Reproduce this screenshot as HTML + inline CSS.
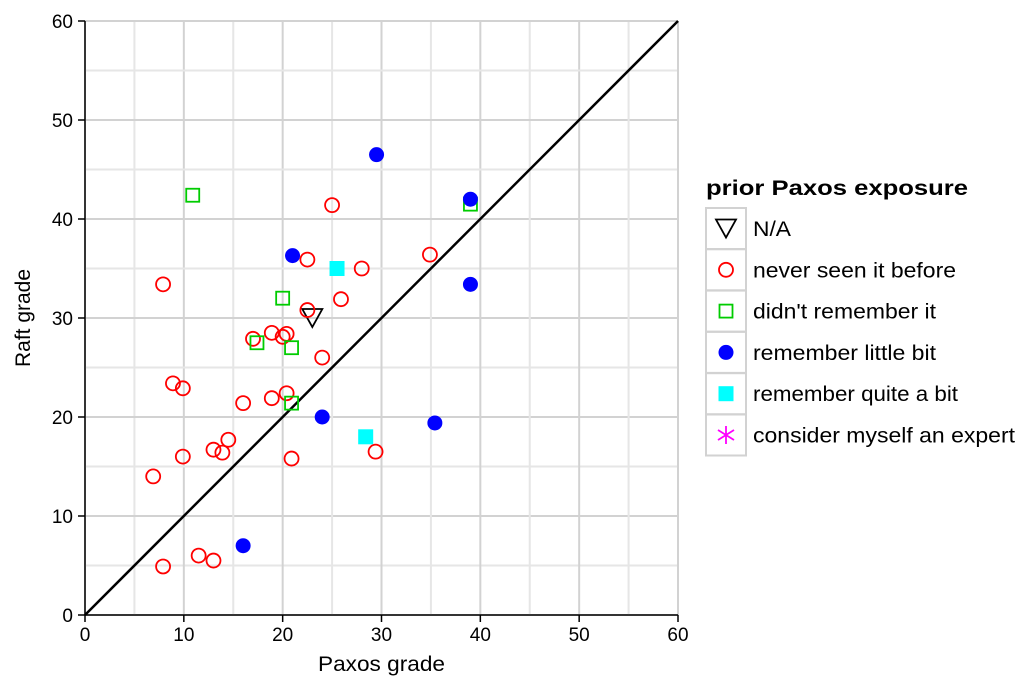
<!DOCTYPE html>
<html><head><meta charset="utf-8">
<style>
html,body{margin:0;padding:0;background:#fff;}
svg{display:block;font-family:"Liberation Sans",Arial,sans-serif;}
</style></head>
<body>
<svg id="chart" width="1027" height="694" viewBox="0 0 1027 694">
<g id="grid"></g>
<g id="axes"></g>
<g id="marks"></g>
<text x="318" y="671" font-size="21" textLength="127" lengthAdjust="spacingAndGlyphs">Paxos grade</text>
<text transform="translate(30,318) rotate(-90)" font-size="21" text-anchor="middle">Raft grade</text>
<g id="legend">
<text x="706" y="195" font-size="21" font-weight="bold" textLength="262" lengthAdjust="spacingAndGlyphs">prior Paxos exposure</text>
</g>
</svg>
<script>
const xTicks=[0,10,20,30,40,50,60];
const yTicks=[0,10,20,30,40,50,60];
const naX=[23], naY=[30];
const neverX=[25,34.9,22.5,28,7.9,25.9,22.5,17,18.9,20,20.4,24,8.9,9.9,16,18.9,20.4,29.4,20.9,14.5,13,13.9,9.9,6.9,11.5,13,7.9];
const neverY=[41.4,36.4,35.9,35,33.4,31.9,30.8,27.9,28.5,28.1,28.4,26,23.4,22.9,21.4,21.9,22.4,16.5,15.8,17.7,16.7,16.4,16,14,6,5.5,4.9];
const didntX=[10.9,39,20,17.4,20.9,20.9];
const didntY=[42.4,41.5,32,27.5,27,21.4];
const littleX=[29.5,39,21,39,24,35.4,16];
const littleY=[46.5,42,36.3,33.4,20,19.4,7];
const quiteX=[25.5,28.4];
const quiteY=[35,18];
const expertX=[], expertY=[];
const legendLabels=["N/A","never seen it before","didn't remember it","remember little bit","remember quite a bit","consider myself an expert"];
const legendWidths=[38,203,183,183,205,262];

const NS="http://www.w3.org/2000/svg";
const X0=85,X1=678,Y0=615,Y1=21;
const sx=v=>X0+(v-0)/60*(X1-X0);
const sy=v=>Y0-(v-0)/60*(Y0-Y1);
function mk(tag,attrs,parent){const e=document.createElementNS(NS,tag);for(const k in attrs)e.setAttribute(k,attrs[k]);parent.appendChild(e);return e;}
const grid=document.getElementById('grid'),axes=document.getElementById('axes'),marks=document.getElementById('marks'),legend=document.getElementById('legend');
for(let v=0;v<=60;v+=5){
  const gx=mk('line',{x1:sx(v),x2:sx(v),y1:Y1,y2:Y0,stroke:v%10?'#e6e6e6':'#d2d2d2','stroke-width':2},grid);
  
  
  const gy=mk('line',{x1:X0,x2:X1,y1:sy(v),y2:sy(v),stroke:v%10?'#e6e6e6':'#d2d2d2','stroke-width':2},grid);
  
  
}
mk('line',{x1:X0,x2:X0,y1:Y1,y2:Y0,stroke:'#000','stroke-width':1.5},axes);
mk('line',{x1:X0,x2:X1,y1:Y0,y2:Y0,stroke:'#000','stroke-width':1.5},axes);
xTicks.forEach(v=>{
  mk('line',{x1:sx(v),x2:sx(v),y1:Y0,y2:Y0+7,stroke:'#000','stroke-width':1.5},axes);
  const t=mk('text',{x:sx(v),y:Y0+26,'font-size':19,'text-anchor':'middle'},axes);t.textContent=v;
  
  
});
yTicks.forEach(v=>{
  mk('line',{x1:X0-7,x2:X0,y1:sy(v),y2:sy(v),stroke:'#000','stroke-width':1.5},axes);
  const t=mk('text',{x:X0-12,y:sy(v)+7,'font-size':19,'text-anchor':'end'},axes);t.textContent=v;
  
  
});
const diag=mk('line',{x1:sx(0),y1:sy(0),x2:sx(60),y2:sy(60),stroke:'#000','stroke-width':2.5},marks);



function drawMarker(kind,cx,cy,parent){
  if(kind===0)return mk('path',{d:`M${cx-10},${cy-9}L${cx+10},${cy-9}L${cx},${cy+9}Z`,fill:'none',stroke:'#000','stroke-width':1.8},parent);
  if(kind===1)return mk('circle',{cx:cx,cy:cy,r:7,fill:'none',stroke:'#f00','stroke-width':1.8},parent);
  if(kind===2)return mk('rect',{x:cx-6.5,y:cy-6.5,width:13,height:13,fill:'none',stroke:'#0c0','stroke-width':1.8},parent);
  if(kind===3)return mk('circle',{cx:cx,cy:cy,r:7.5,fill:'#00f'},parent);
  if(kind===4)return mk('rect',{x:cx-7.5,y:cy-7.5,width:15,height:15,fill:'#0ff'},parent);
  return mk('path',{d:`M${cx},${cy-9}V${cy+9}M${cx-8},${cy-5}L${cx+8},${cy+5}M${cx-8},${cy+5}L${cx+8},${cy-5}`,stroke:'#f0f','stroke-width':1.8},parent);
}
const series=[[naX,naY],[neverX,neverY],[didntX,didntY],[littleX,littleY],[quiteX,quiteY],[expertX,expertY]];
series.forEach((s,k)=>{
  s[0].forEach((xv,i)=>{
    const m=drawMarker(k,sx(xv),sy(s[1][i]),marks);
    
    
  });
});
legendLabels.forEach((lab,k)=>{
  const y=208+k*41.3;
  const g=mk('g',{},legend);
  
  
  mk('rect',{x:706,y:y,width:40,height:41,fill:'#fff',stroke:'#d2d2d2','stroke-width':2},g);
  drawMarker(k,726,y+20.5,g);
  const t=mk('text',{x:753,y:y+28,'font-size':21,textLength:legendWidths[k],lengthAdjust:'spacingAndGlyphs'},g);t.textContent=lab;
});
</script>
</body></html>
